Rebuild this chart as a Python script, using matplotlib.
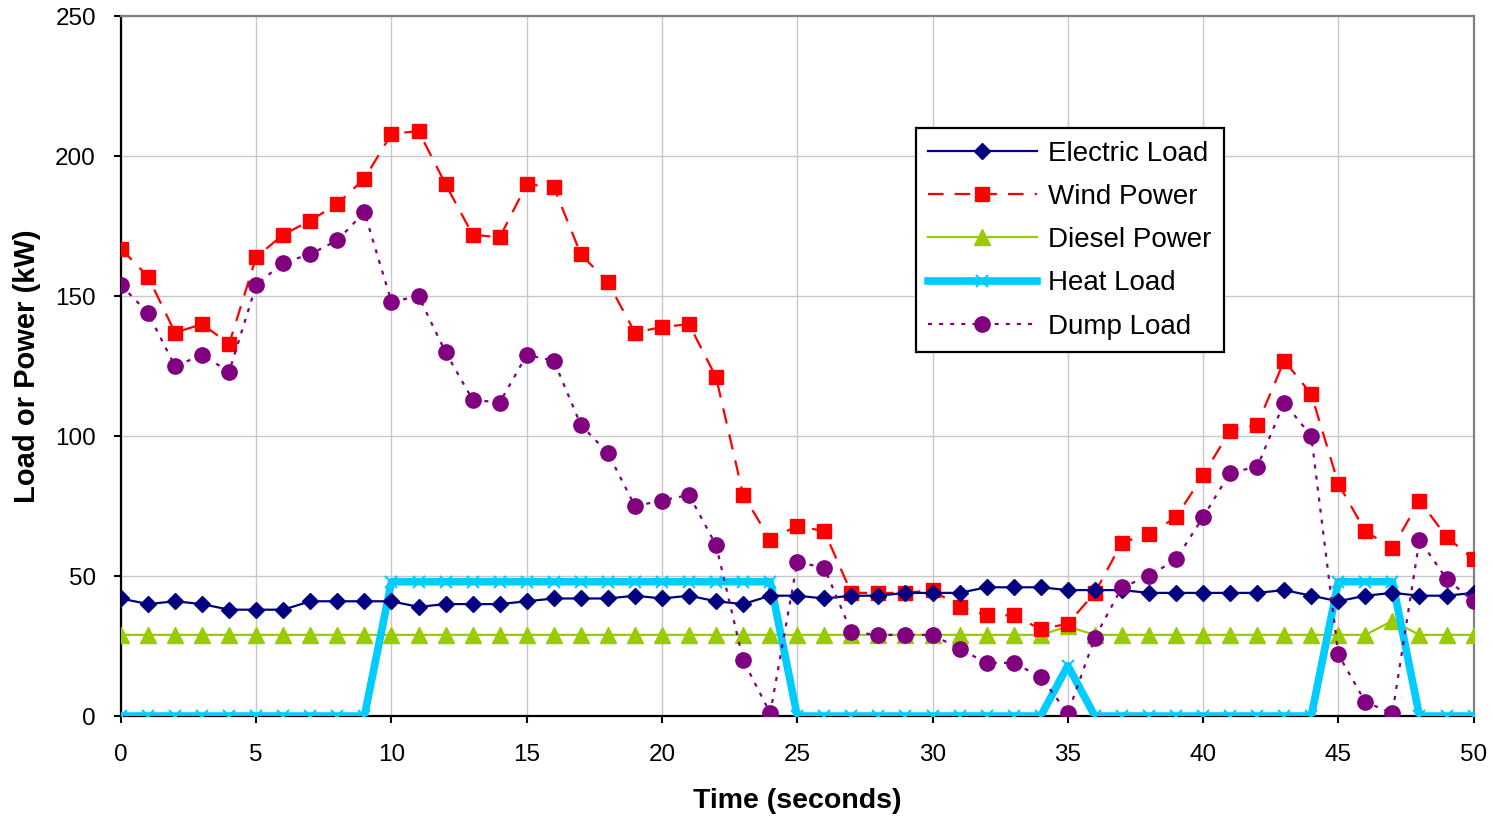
import matplotlib.pyplot as plt
import numpy as np

plt.rcParams['font.family'] = ['Liberation Sans', 'DejaVu Sans']

time_s = list(range(51))

electric_load = [42, 40, 41, 40, 38, 38, 38, 41, 41, 41,
                 41, 39, 40, 40, 40, 41, 42, 42, 42, 43,
                 42, 43, 41, 40, 43, 43, 42, 43, 43, 44,
                 44, 44, 46, 46, 46, 45, 45, 45, 44, 44,
                 44, 44, 44, 45, 43, 41, 43, 44, 43, 43, 44]

wind_power = [167, 157, 137, 140, 133, 164, 172, 177, 183, 192,
              208, 209, 190, 172, 171, 190, 189, 165, 155, 137,
              139, 140, 121, 79, 63, 68, 66, 44, 44, 44,
              45, 39, 36, 36, 31, 33, 44, 62, 65, 71,
              86, 102, 104, 127, 115, 83, 66, 60, 77, 64, 56]

diesel_power = [29] * 35 + [32] + [29] * 11 + [34] + [29] * 3

heat_load = [0] * 10 + [48] * 15 + [0] * 10 + [18] + [0] * 9 + [48] * 3 + [0] * 3

dump_load = [154, 144, 125, 129, 123, 154, 162, 165, 170, 180,
             148, 150, 130, 113, 112, 129, 127, 104, 94, 75,
             77, 79, 61, 20, 1, 55, 53, 30, 29, 29,
             29, 24, 19, 19, 14, 1, 28, 46, 50, 56,
             71, 87, 89, 112, 100, 22, 5, 1, 63, 49, 41]

fig = plt.figure(figsize=(14.93, 8.16), dpi=100)
ax = fig.add_axes([0.081, 0.1225, 0.906, 0.8575])

ax.plot(time_s, electric_load, color='#000080', lw=1.6, marker='D', ms=8.5,
        label='Electric Load', zorder=5)
ax.plot(time_s, wind_power, color='#FF0000', lw=1.6, marker='s', ms=10.5,
        dashes=(7, 5), label='Wind Power', zorder=4)
ax.plot(time_s, diesel_power, color='#99CC00', lw=1.6, marker='^', ms=11.5,
        label='Diesel Power', zorder=3)
ax.plot(time_s, heat_load, color='#00CCFF', lw=5.5, marker='x', ms=8, mew=1.5,
        label='Heat Load', zorder=4)
ax.plot(time_s, dump_load, color='#800080', lw=1.6, marker='o', ms=11,
        dashes=(1.8, 3.2), label='Dump Load', zorder=6)

ax.set_xlim(0, 50)
ax.set_ylim(0, 250)
ax.set_xticks(np.arange(0, 51, 5))
ax.set_yticks(np.arange(0, 251, 50))
ax.grid(True, color='#C8C8C8', lw=1)
ax.set_axisbelow(True)

for side in ['left', 'bottom']:
    ax.spines[side].set_color('black')
    ax.spines[side].set_linewidth(1.6)
for side in ['top', 'right']:
    ax.spines[side].set_color('#808080')
    ax.spines[side].set_linewidth(1.6)
ax.tick_params(axis='both', direction='out', length=5, width=1.5, labelsize=17.5,
               top=False, right=False)
ax.tick_params(axis='x', pad=15)
ax.tick_params(axis='y', pad=13)

ax.set_xlabel('Time (seconds)', fontsize=20.5, fontweight='bold', labelpad=16)
ax.set_ylabel('Load or Power (kW)', fontsize=21, fontweight='bold', labelpad=10)

leg = ax.legend(loc='upper left', bbox_to_anchor=(0.5876, 0.84), fontsize=20,
                frameon=True, fancybox=False, edgecolor='black', framealpha=1,
                handlelength=3.9, labelspacing=0.62, borderpad=0.45,
                handletextpad=0.4, borderaxespad=0)
leg.get_frame().set_linewidth(1.6)

fig.savefig('out.png', dpi=100)
